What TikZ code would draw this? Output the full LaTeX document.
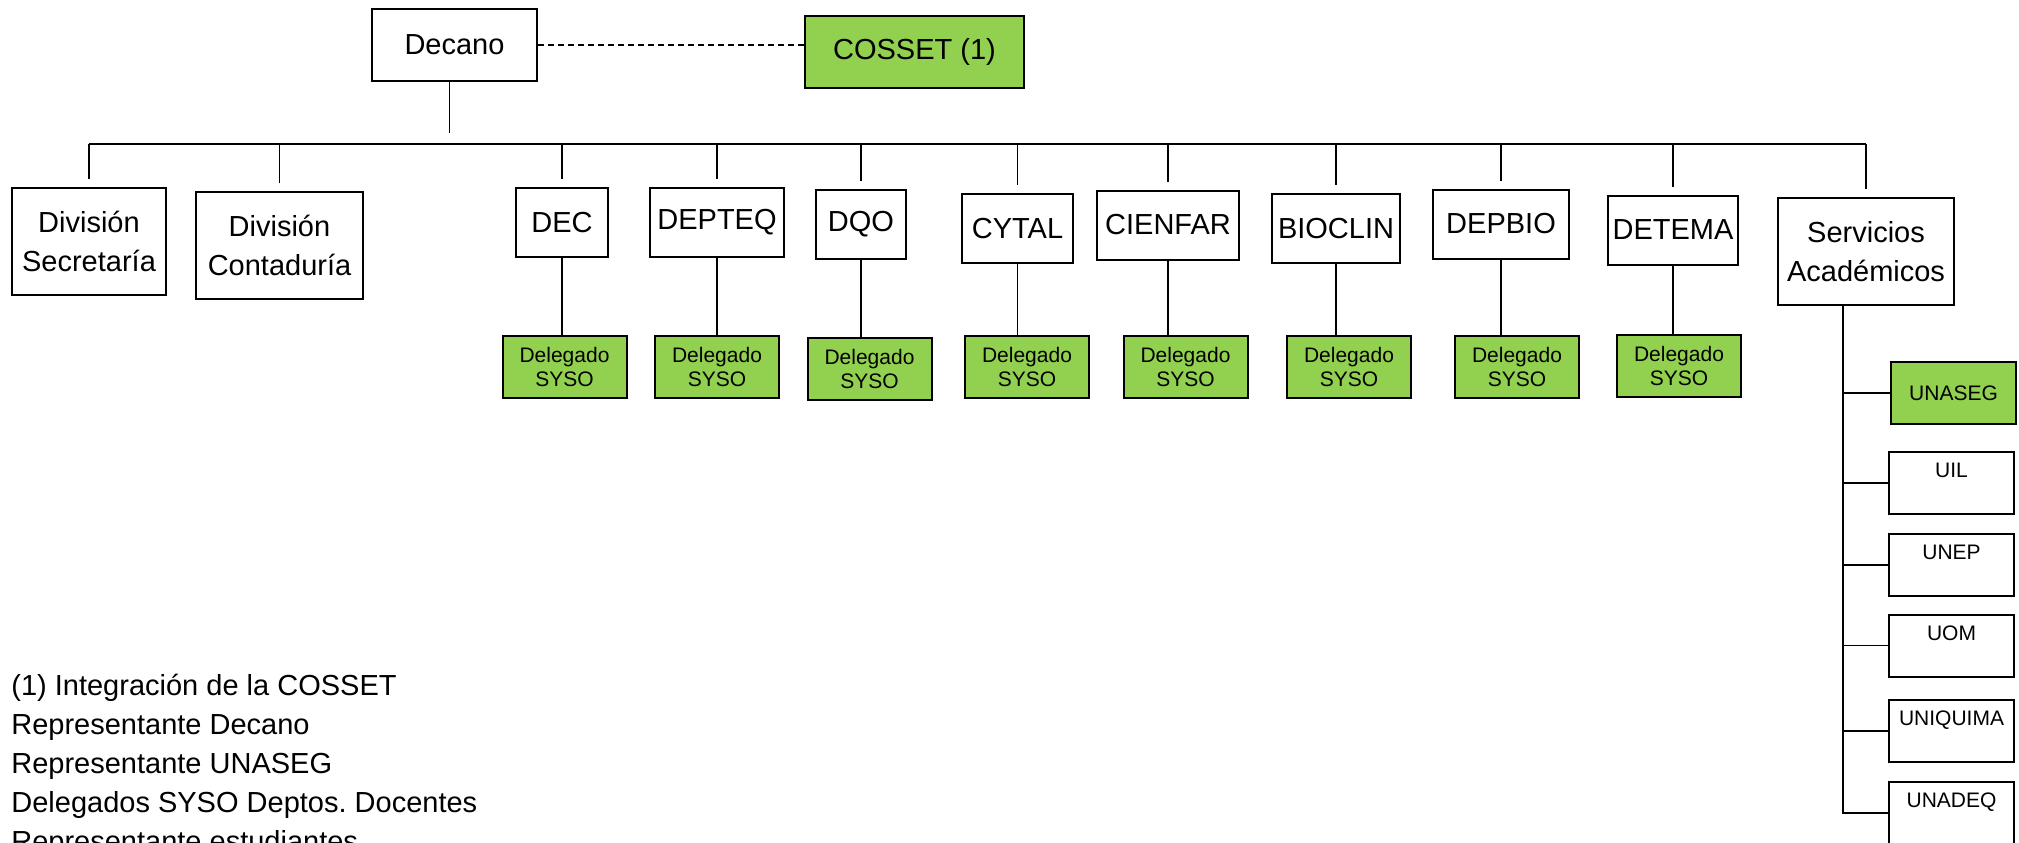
\documentclass[tikz,border=0pt]{standalone}
\usepackage{fontspec}
\setmainfont{Liberation Sans}
\usepackage{xcolor}
\definecolor{sysogreen}{HTML}{92D050}
\newcommand{\orgfont}{\fontsize{14.5}{19.5}\selectfont}
\newcommand{\dlgfont}{\fontsize{10.5}{12}\selectfont}

\begin{document}
\begin{tikzpicture}[x=0.5pt,y=-0.5pt,
  box/.style={draw, line width=1pt, inner sep=0pt, align=center, font=\orgfont},
  dept/.style={box, minimum height=34.5pt},
  delegado/.style={box, fill=sysogreen, minimum width=62pt, minimum height=31pt, font=\dlgfont},
  unit/.style={box, minimum width=62.5pt, minimum height=31pt, font=\dlgfont},
  legend/.style={inner sep=0pt, align=left, font=\orgfont}]
\useasboundingbox[fill=white] (0,0) rectangle (2019,842);

\node[box, minimum width=82.5pt, minimum height=36pt] (decano) at (454.5,45) {Decano};
\node[box, fill=sysogreen, minimum width=109.5pt, minimum height=36pt] (cosset) at (914.5,52) {COSSET (1)};

\node[box, minimum width=77pt, minimum height=53.5pt] (divsec) at (89,241.5) {División\\Secretaría};
\node[box, minimum width=83.5pt, minimum height=53.5pt] (divcont) at (279.5,245.5) {División\\Contaduría};
\node[dept, minimum width=46pt] (dec) at (562,222.5) {DEC};
\node[dept, minimum width=67pt] (depteq) at (717,222.5) {DEPTEQ};
\node[dept, minimum width=45pt] (dqo) at (861,224) {DQO};
\node[dept, minimum width=55.5pt] (cytal) at (1017.5,228.5) {CYTAL};
\node[dept, minimum width=71pt] (cienfar) at (1168,225) {CIENFAR};
\node[dept, minimum width=64pt] (bioclin) at (1336,228.5) {BIOCLIN};
\node[dept, minimum width=68pt] (depbio) at (1501,224) {DEPBIO};
\node[dept, minimum width=65pt] (detema) at (1673,230) {DETEMA};
\node[box, minimum width=88pt, minimum height=53.5pt] (serv) at (1866,251.5) {Servicios\\Académicos};

\node[delegado] (dec-d) at (564.5,367) {Delegado\\SYSO};
\node[delegado] (depteq-d) at (717,367) {Delegado\\SYSO};
\node[delegado] (dqo-d) at (869.5,369) {Delegado\\SYSO};
\node[delegado] (cytal-d) at (1027,367) {Delegado\\SYSO};
\node[delegado] (cienfar-d) at (1185.5,367) {Delegado\\SYSO};
\node[delegado] (bioclin-d) at (1349,367) {Delegado\\SYSO};
\node[delegado] (depbio-d) at (1517,367) {Delegado\\SYSO};
\node[delegado] (detema-d) at (1679,365.5) {Delegado\\SYSO};

\node[unit, fill=sysogreen] (unaseg) at (1953.5,393) {UNASEG};
\node[unit] (uil) at (1951.5,483) {UIL\\[-3pt]\strut};
\node[unit] (unep) at (1951.5,565) {UNEP\\[-3pt]\strut};
\node[unit] (uom) at (1951.5,645.5) {UOM\\[-3pt]\strut};
\node[unit] (uniquima) at (1951.5,731) {UNIQUIMA\\[-3pt]\strut};
\node[unit] (unadeq) at (1951.5,813) {UNADEQ\\[-3pt]\strut};

\node[legend, anchor=west] (legend) at (11,766) {(1) Integración de la COSSET\\
Representante Decano\\ Representante UNASEG\\ Delegados SYSO Deptos.\ Docentes\\
Representante estudiantes};

\coordinate (bus) at (0,144);
\coordinate (deckink) at (0,133);
\coordinate (sa) at ([xshift=-11.5pt]serv.south);

\draw[densely dashed, line width=0.6pt] (decano.east) -- (decano.east -| cosset.west);
\draw[line width=0.7pt] ([xshift=-2.5pt]decano.south) -- ([xshift=-2.5pt]decano.south |- deckink);
\draw[line width=1pt] (divsec.north |- bus) -- (serv.north |- bus);
\foreach \d in {divsec,divcont,dec,depteq,dqo,cytal,cienfar,bioclin,depbio,detema,serv}
  \draw[line width=0.7pt] (\d.north |- bus) -- ([yshift=4pt]\d.north);
\foreach \d in {dec,depteq,dqo,cytal,cienfar,bioclin,depbio,detema}
  \draw[line width=0.7pt] (\d.south) -- (\d.south |- \d-d.north);
\draw[line width=0.8pt] (sa) |- (unadeq.west);
\foreach \u in {unaseg,uil,unep,uom,uniquima}
  \draw[line width=0.8pt] (sa |- \u.west) -- (\u.west);
%\draw (serv.south) -- (unaseg.north);
\end{tikzpicture}
\end{document}
